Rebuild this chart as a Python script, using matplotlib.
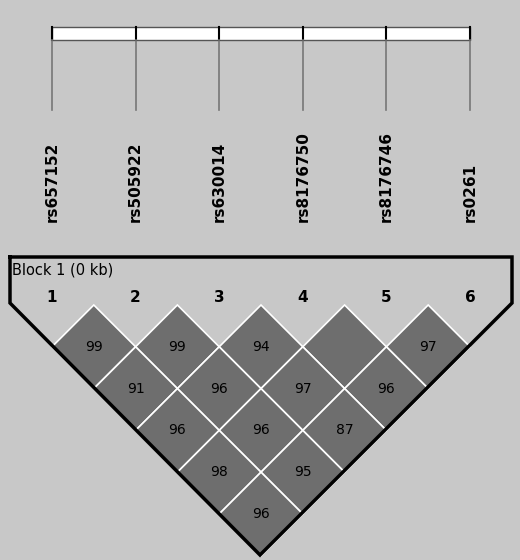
import matplotlib.pyplot as plt
from matplotlib.patches import Polygon, Rectangle

snps = ["rs657152", "rs505922", "rs630014", "rs8176750", "rs8176746", "rs0261"]
# D' values for pair (i, j) keyed by distance; None means 100 (no number shown)
ld_rows = [
    [99, 99, 94, None, 97],
    [91, 96, 97, 96],
    [96, 96, 87],
    [98, 95],
    [96],
]

BG = "#c8c8c8"
CELL = "#6e6e6e"
xs = [52 + i * 83.6 for i in range(len(snps))]
half = 41.8
top_y = 305

fig = plt.figure(figsize=(5.2, 5.6), dpi=100)
fig.patch.set_facecolor(BG)
ax = fig.add_axes([0, 0, 1, 1])
ax.set_xlim(0, 520)
ax.set_ylim(560, 0)
ax.axis("off")

# physical map bar
ax.add_patch(Rectangle((xs[0], 27), xs[-1] - xs[0], 13, facecolor="white", edgecolor="#555555", lw=1))
for x, name in zip(xs, snps):
    ax.plot([x, x], [27, 40], color="black", lw=1.5)
    ax.plot([x, x], [40, 110], color="#777777", lw=1.2)
    ax.text(x, 222, name, rotation=90, ha="center", va="bottom", fontsize=11, fontweight="bold")

# LD diamonds
for d, row in enumerate(ld_rows, start=1):
    for i, val in enumerate(row):
        cx = (xs[i] + xs[i + d]) / 2
        cy = top_y + d * half
        pts = [(cx, cy - half), (cx + half, cy), (cx, cy + half), (cx - half, cy)]
        ax.add_patch(Polygon(pts, closed=True, facecolor=CELL, edgecolor="white", lw=1.2))
        if val is not None:
            ax.text(cx, cy, str(val), ha="center", va="center", fontsize=10)

# block outline
outline_x = [10, 512, 512, 260, 10, 10]
outline_y = [257, 257, 303, 555, 303, 257]
ax.plot(outline_x, outline_y, color="black", lw=2.5, solid_joinstyle="miter")

ax.text(12, 270, "Block 1 (0 kb)", ha="left", va="center", fontsize=10.5)
for k, x in enumerate(xs, start=1):
    ax.text(x, 297, str(k), ha="center", va="center", fontsize=11, fontweight="bold")

fig.savefig("out.png", dpi=100, facecolor=BG)
